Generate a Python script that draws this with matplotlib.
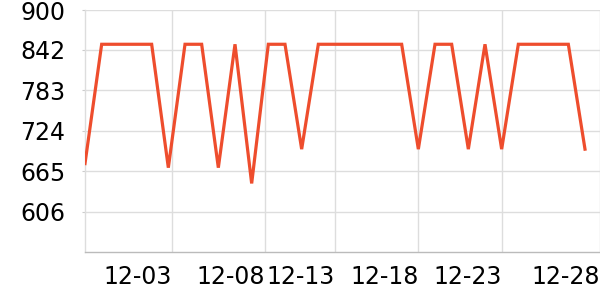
import matplotlib
matplotlib.use("Agg")
import matplotlib.pyplot as plt

# ---- data ----
dates = ["11-28", "11-29", "11-30", "12-01", "12-02", "12-03", "12-04", "12-05",
         "12-06", "12-07", "12-08", "12-09", "12-10", "12-11", "12-12", "12-13",
         "12-14", "12-15", "12-16", "12-17", "12-18", "12-19", "12-20", "12-21",
         "12-22", "12-23", "12-24", "12-25", "12-26", "12-27", "12-28"]
values = [676, 850, 850, 850, 850, 670, 850, 850, 670, 850, 647, 850, 850, 697,
          850, 850, 850, 850, 850, 850, 697, 850, 850, 697, 850, 697, 850, 850,
          850, 850, 697]
y_ticks = [606, 665, 724, 783, 842, 900]
x_tick_labels = ["12-03", "12-08", "12-13", "12-18", "12-23", "12-28"]

# ---- layout ----
x_tick_pos = [5.22, 10.8, 15.0, 20.0, 25.0, 30.9]
y_min, y_max = 547, 900

fig = plt.figure(figsize=(6, 3), dpi=100)
ax = fig.add_axes([85 / 600, 1 - 252 / 300, 515 / 600, 242 / 300])

x = list(range(len(values)))
ax.plot(x, values, color="#ee4d2d", lw=2.3, solid_joinstyle="miter", zorder=3)

ax.set_xlim(0, 30.9)
ax.set_ylim(y_min, y_max)

ax.set_yticks(y_ticks)
ax.set_yticklabels([str(v) for v in y_ticks])
ax.set_xticks(x_tick_pos)
ax.set_xticklabels(x_tick_labels, ha="right")

ax.grid(True, color="#dddddd", lw=1)
ax.set_axisbelow(True)

for s in ["top", "right"]:
    ax.spines[s].set_visible(False)
ax.spines["left"].set_color("#dddddd")
ax.spines["bottom"].set_color("#bbbbbb")
ax.spines["left"].set_linewidth(1)
ax.spines["bottom"].set_linewidth(1)

ax.tick_params(axis="y", length=2, color="#cccccc", labelsize=17, pad=12, labelcolor="black")
ax.tick_params(axis="x", length=0, labelsize=17, pad=9, labelcolor="black")

fig.savefig("out.png", dpi=100)
